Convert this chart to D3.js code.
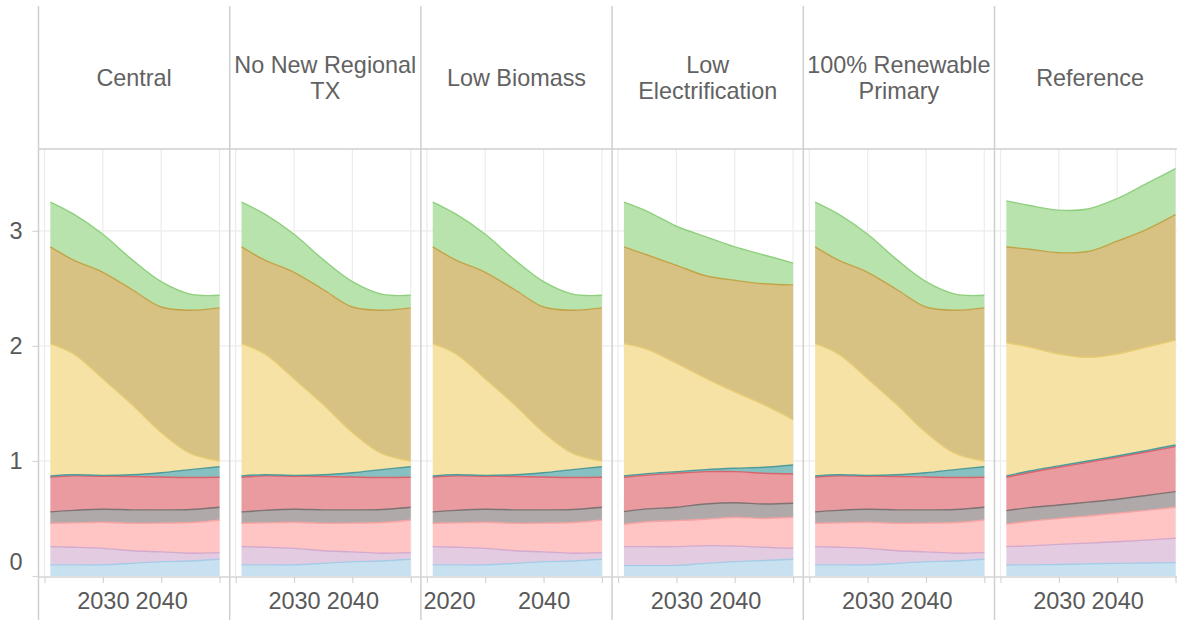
<!doctype html>
<html lang="en">
<head>
<meta charset="UTF-8">
<title>scenarios</title>
<script src="https://cdn.jsdelivr.net/npm/d3@7"></script>
<style>
  body { margin: 0; background: #fff; }
  svg { display: block; }
</style>
</head>
<body>
<script>
  // years sampled along each panel
  var years = [2021, 2025, 2030, 2035, 2040, 2045, 2050];

  // layer keys, bottom to top
  var layers = ["l1", "l2", "l3", "l4", "l5", "l6", "l7", "l8", "l9"];

  // each row = one layer (own thickness, not cumulative)
  var central = [
    [0.097, 0.097, 0.097, 0.110, 0.125, 0.130, 0.145],
    [0.158, 0.153, 0.143, 0.110, 0.085, 0.068, 0.058],
    [0.203, 0.212, 0.227, 0.238, 0.250, 0.267, 0.284],
    [0.099, 0.108, 0.113, 0.117, 0.115, 0.113, 0.110],
    [0.301, 0.300, 0.286, 0.290, 0.285, 0.278, 0.261],
    [0.012, 0.010, 0.009, 0.015, 0.038, 0.069, 0.092],
    [1.150, 1.050, 0.840, 0.610, 0.350, 0.140, 0.050],
    [0.840, 0.815, 0.925, 1.000, 1.090, 1.245, 1.330],
    [0.390, 0.400, 0.330, 0.260, 0.220, 0.140, 0.110]
  ];

  var lowElectrification = [
    [0.090, 0.090, 0.092, 0.110, 0.125, 0.135, 0.145],
    [0.165, 0.165, 0.163, 0.154, 0.135, 0.115, 0.095],
    [0.195, 0.217, 0.226, 0.229, 0.250, 0.250, 0.270],
    [0.110, 0.111, 0.116, 0.133, 0.127, 0.126, 0.122],
    [0.298, 0.294, 0.296, 0.281, 0.270, 0.267, 0.255],
    [0.012, 0.013, 0.014, 0.018, 0.030, 0.052, 0.078],
    [1.150, 1.080, 0.943, 0.795, 0.663, 0.545, 0.395],
    [0.840, 0.820, 0.850, 0.890, 0.970, 1.050, 1.170],
    [0.390, 0.380, 0.340, 0.340, 0.290, 0.250, 0.190]
  ];

  var reference = [
    [0.096, 0.097, 0.100, 0.105, 0.110, 0.113, 0.116],
    [0.159, 0.165, 0.175, 0.181, 0.188, 0.199, 0.212],
    [0.197, 0.214, 0.225, 0.236, 0.247, 0.258, 0.269],
    [0.116, 0.118, 0.117, 0.120, 0.122, 0.130, 0.136],
    [0.290, 0.306, 0.328, 0.346, 0.365, 0.378, 0.391],
    [0.012, 0.013, 0.012, 0.012, 0.011, 0.012, 0.015],
    [1.160, 1.077, 0.973, 0.900, 0.887, 0.900, 0.911],
    [0.830, 0.850, 0.880, 0.920, 0.980, 1.020, 1.090],
    [0.400, 0.380, 0.370, 0.370, 0.370, 0.400, 0.400]
  ];

  var panelTitles = [
    ["Central"],
    ["No New Regional", "TX"],
    ["Low Biomass"],
    ["Low", "Electrification"],
    ["100% Renewable", "Primary"],
    ["Reference"]
  ];
  var panelData = [central, central, central, lowElectrification, central, reference];
  var xTickLabels = [[2030, 2040], [2030, 2040], [2020, 2040], [2030, 2040], [2030, 2040], [2030, 2040]];
  var yTicks = [0, 1, 2, 3];

  var fills = ["#c5dff0", "#e2c9df", "#ffc1c1", "#aca4a4", "#e9969b", "#80bdbd", "#f5e09f", "#d5bf7d", "#b5e2a9"];
  var strokes = ["#a5cbe6", "#d3a9cd", "#f6a3a3", "#7d7373", "#d8646c", "#4e9a9a", "#e6cb72", "#c2a447", "#8ed07e"];

  var width = 1177, height = 620;
  var left = 38.5, panelW = 191.2, headTop = 6, headerBottom = 149, axisY0 = 577;
  var font = "'Liberation Sans', Arial, sans-serif";

  var svg = d3.select("body").append("svg")
      .attr("width", width)
      .attr("height", height)
      .style("font-family", font);

  var y = d3.scaleLinear().domain([0, 3.72]).range([576, 148]);
  var curve = d3.curveCatmullRom.alpha(0.5);

  panelData.forEach(function(data, i) {
    var x0 = left + i * panelW;
    var x = d3.scaleLinear().domain([2020, 2050]).range([x0 + 6, x0 + 181]);
    var g = svg.append("g");

    // grid
    g.selectAll(".hgrid").data([1, 2, 3]).join("line")
        .attr("x1", x0).attr("x2", x0 + panelW)
        .attr("y1", function(d) { return y(d); })
        .attr("y2", function(d) { return y(d); })
        .attr("stroke", "#ececec").attr("stroke-width", 1.2);
    g.selectAll(".vgrid").data([2020, 2030, 2040, 2050]).join("line")
        .attr("x1", function(d) { return x(d); })
        .attr("x2", function(d) { return x(d); })
        .attr("y1", headerBottom).attr("y2", axisY0)
        .attr("stroke", "#ececec").attr("stroke-width", 1.2);

    // stacked layers
    var rows = years.map(function(yr, j) {
      var r = {year: yr};
      layers.forEach(function(k, li) { r[k] = data[li][j]; });
      return r;
    });
    var stacked = d3.stack().keys(layers)(rows);

    var area = d3.area()
        .x(function(d) { return x(d.data.year); })
        .y0(function(d) { return y(d[0]); })
        .y1(function(d) { return y(d[1]); })
        .curve(curve);
    var line = d3.line()
        .x(function(d) { return x(d.data.year); })
        .y(function(d) { return y(d[1]); })
        .curve(curve);

    g.selectAll(".area").data(stacked).join("path")
        .attr("d", area)
        .attr("fill", function(d, k) { return fills[k]; })
        .attr("fill-opacity", 0.95);
    g.selectAll(".edge").data(stacked).join("path")
        .attr("d", line)
        .attr("fill", "none")
        .attr("stroke", function(d, k) { return strokes[k]; })
        .attr("stroke-width", 1.4);

    // x axis
    var shown = xTickLabels[i];
    var ax = g.append("g")
        .attr("transform", "translate(0," + axisY0 + ")")
        .call(d3.axisBottom(x)
            .tickValues([2020, 2030, 2040, 2050])
            .tickSize(6)
            .tickPadding(9)
            .tickFormat(function(d) { return shown.indexOf(d) >= 0 ? d : ""; }));
    ax.select(".domain").remove();
    ax.selectAll(".tick line").attr("stroke", "#d4d4d4").attr("stroke-width", 1.2);
    ax.selectAll(".tick text")
        .attr("fill", "#595959")
        .style("font-size", "23.5px")
        .style("font-family", font);
    ax.selectAll(".tick text").filter(function(d) { return d === 2020; })
        .attr("text-anchor", "start").attr("x", -4);

    // header
    var titleLines = panelTitles[i];
    var cy = (headTop + headerBottom) / 2;
    g.append("text")
        .attr("text-anchor", "middle")
        .attr("fill", "#626262")
        .style("font-size", "23.4px")
        .selectAll("tspan").data(titleLines).join("tspan")
        .attr("x", x0 + panelW / 2)
        .attr("y", function(d, k) { return cy + (k - (titleLines.length - 1) / 2) * 26; })
        .attr("dy", "0.35em")
        .text(function(d) { return d; });

    // panel border
    g.append("line")
        .attr("x1", x0).attr("x2", x0)
        .attr("y1", headTop).attr("y2", height)
        .attr("stroke", "#cfcfcf").attr("stroke-width", 1.5);
  });

  // header rule and bottom rule
  svg.append("line")
      .attr("x1", left).attr("x2", width)
      .attr("y1", headerBottom).attr("y2", headerBottom)
      .attr("stroke", "#cfcfcf").attr("stroke-width", 1.5);
  svg.append("line")
      .attr("x1", left).attr("x2", width)
      .attr("y1", axisY0).attr("y2", axisY0)
      .attr("stroke", "#d4d4d4").attr("stroke-width", 1.5);

  // y axis
  var ay = svg.append("g")
      .attr("transform", "translate(" + left + ",0)")
      .call(d3.axisLeft(y).tickValues(yTicks).tickSize(6).tickPadding(10).tickFormat(d3.format("d")));
  ay.select(".domain").remove();
  ay.selectAll(".tick line").attr("stroke", "#d4d4d4").attr("stroke-width", 1.2);
  ay.selectAll(".tick text")
      .attr("fill", "#595959")
      .style("font-size", "23.5px")
      .style("font-family", font);
  ay.selectAll(".tick text").filter(function(d) { return d === 0; })
      .attr("y", -14);
</script>
</body>
</html>
